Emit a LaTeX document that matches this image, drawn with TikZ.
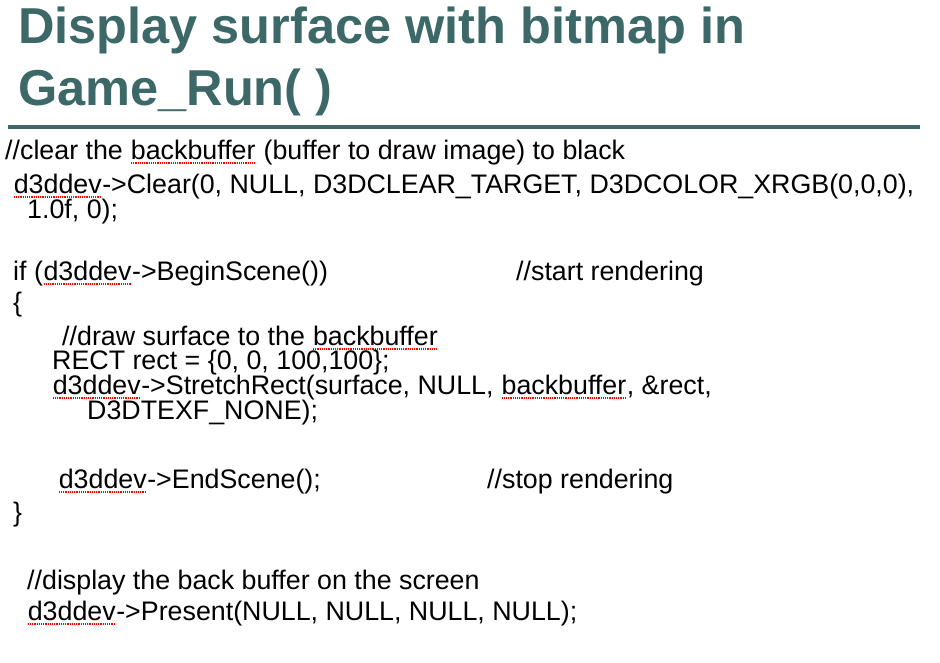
\documentclass[tikz,border=0pt]{standalone}
\usepackage{fontspec}
\setmainfont{Liberation Sans}
\definecolor{ttlcol}{HTML}{3D6868}
\newcommand\sq[1]{\tikz[baseline=(w.base)]{\node[inner sep=0pt,outer sep=0pt,anchor=base](w){#1};\draw[red,densely dotted,line width=1.2pt]([yshift=-3pt]w.base west)--([yshift=-3pt]w.base east);}}
\begin{document}
\begin{tikzpicture}[x=1pt,y=-1pt,
  code/.style={anchor=west,inner sep=0pt,font=\fontsize{26.8}{28}\selectfont},
  ttl/.style={anchor=west,inner sep=0pt,text=ttlcol,font=\fontsize{50.5}{54}\selectfont\bfseries}]
\useasboundingbox (0,0) rectangle (940,662);
\node[ttl] (t1) at (18,30) {Display surface with bitmap in};
\node[ttl] (t2) at (18,92) {Game\_Run( )};
\draw[ttlcol,line width=3.5pt] (8,127) -- (920,127);
\node[code] (l1) at (5,153) {//clear the \sq{backbuffer} (buffer to draw image) to black};
\node[code] (l2) at (13,187) {\sq{d3ddev}->Clear(0, NULL, D3DCLEAR\_TARGET, D3DCOLOR\_XRGB(0,0,0),};
\node[code] (l3) at (27,212) {1.0f, 0);};
\node[code] (l4) at (13,274) {if (\sq{d3ddev}->BeginScene())};
\node[code] (l4c) at (516,274) {//start rendering};
\node[code] (l5) at (13,305) {\{};
\node[code] (l6) at (62,338) {//draw surface to the \sq{backbuffer}};
\node[code] (l7) at (52,363) {RECT rect = \{0, 0, 100,100\};};
\node[code] (l8) at (52,388) {\sq{d3ddev}->StretchRect(surface, NULL, \sq{backbuffer}, \&rect,};
\node[code] (l9) at (87,413) {D3DTEXF\_NONE);};
\node[code] (l10) at (58,482) {\sq{d3ddev}->EndScene();};
\node[code] (l10c) at (487,482) {//stop rendering};
\node[code] (l11) at (13,515) {\}};
\node[code] (l12) at (27,583) {//display the back buffer on the screen};
\node[code] (l13) at (27,614) {\sq{d3ddev}->Present(NULL, NULL, NULL, NULL);};
\end{tikzpicture}
\end{document}
